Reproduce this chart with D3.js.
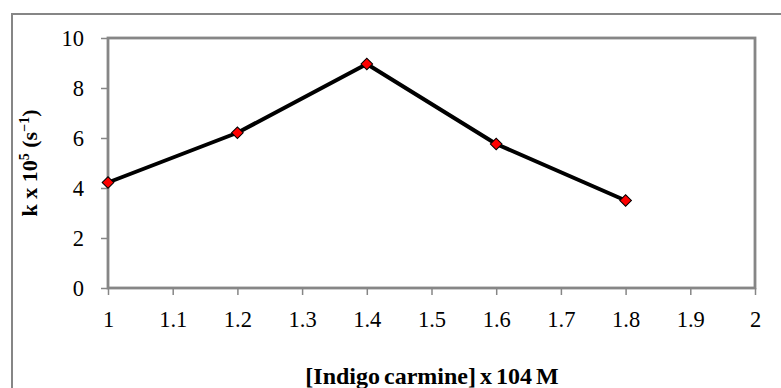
<!DOCTYPE html>
<html>
<head>
<meta charset="utf-8">
<script src="https://cdn.jsdelivr.net/npm/d3@7"></script>
<style>
  html, body { margin: 0; padding: 0; background: #fff; }
  svg { display: block; }
</style>
</head>
<body>
<svg id="chart" width="781" height="388"></svg>
<script>
// Rate constant vs. indigo carmine concentration
const concentration = [1.0, 1.2, 1.4, 1.6, 1.8];
const rateK = [4.22, 6.21, 8.96, 5.76, 3.50];
const xTicks = [1, 1.1, 1.2, 1.3, 1.4, 1.5, 1.6, 1.7, 1.8, 1.9, 2];
const yTicks = [0, 2, 4, 6, 8, 10];

const svg = d3.select("#chart");
const W = 781, H = 388;
const plot = { left: 108, top: 38, right: 755, bottom: 288 };
const axisGray = "#868686";
const serif = "'Liberation Serif', 'Times New Roman', Times, serif";

// outer chart frame
svg.append("rect")
  .attr("x", 12).attr("y", 14)
  .attr("width", W - 12 + 5).attr("height", H)
  .attr("fill", "none").attr("stroke", axisGray).attr("stroke-width", 2);

const x = d3.scaleLinear().domain([1, 2]).range([plot.left, plot.right]);
const y = d3.scaleLinear().domain([0, 10]).range([plot.bottom, plot.top]);

// plot-area border
svg.append("rect")
  .attr("x", plot.left).attr("y", plot.top)
  .attr("width", plot.right - plot.left).attr("height", plot.bottom - plot.top)
  .attr("fill", "none").attr("stroke", axisGray).attr("stroke-width", 2.8);

// y axis
const yAxis = svg.append("g")
  .attr("transform", `translate(${plot.left},0)`)
  .call(d3.axisLeft(y).tickValues(yTicks).tickSize(7).tickPadding(17).tickFormat(d3.format("d")));
yAxis.select(".domain").remove();
yAxis.selectAll(".tick line").attr("stroke", axisGray).attr("stroke-width", 1.5);
yAxis.selectAll(".tick text")
  .attr("font-family", serif).attr("font-size", 22.5).attr("fill", "#000");

// x axis
const xAxis = svg.append("g")
  .attr("transform", `translate(0,${plot.bottom})`)
  .call(d3.axisBottom(x).tickValues(xTicks).tickSize(7).tickPadding(16).tickFormat(d => d3.format("~g")(d)));
xAxis.select(".domain").remove();
xAxis.selectAll(".tick line").attr("stroke", axisGray).attr("stroke-width", 1.5);
xAxis.selectAll(".tick text")
  .attr("font-family", serif).attr("font-size", 22.5).attr("fill", "#000");

// data line
const pts = concentration.map((c, i) => [c, rateK[i]]);
svg.append("path")
  .datum(pts)
  .attr("fill", "none").attr("stroke", "#000").attr("stroke-width", 4)
  .attr("stroke-linejoin", "round")
  .attr("d", d3.line().x(d => x(d[0])).y(d => y(d[1])));

// diamond markers
const diamond = d3.symbol().type(d3.symbolSquare).size(68);
svg.selectAll(".marker")
  .data(pts)
  .join("path")
  .attr("class", "marker")
  .attr("d", diamond)
  .attr("transform", d => `translate(${x(d[0])},${y(d[1])}) rotate(45)`)
  .attr("fill", "#ff0000").attr("stroke", "#000").attr("stroke-width", 1);

// axis titles
svg.append("text")
  .attr("x", 432).attr("y", 384)
  .attr("text-anchor", "middle")
  .attr("font-family", serif).attr("font-size", 24).attr("font-weight", "bold")
  .attr("word-spacing", -2)
  .text("[Indigo carmine] x 104 M");

const yTitle = svg.append("text")
  .attr("transform", "translate(37,163) rotate(-90)")
  .attr("text-anchor", "middle")
  .attr("font-family", serif).attr("font-size", 22).attr("font-weight", "bold");
yTitle.append("tspan").text("k x 10");
yTitle.append("tspan").attr("dy", -8).attr("font-size", 14).text("5");
yTitle.append("tspan").attr("dy", 8).text(" (s");
yTitle.append("tspan").attr("dy", -8).attr("font-size", 14).text("\u22121");
yTitle.append("tspan").attr("dy", 8).text(")");
</script>
</body>
</html>
